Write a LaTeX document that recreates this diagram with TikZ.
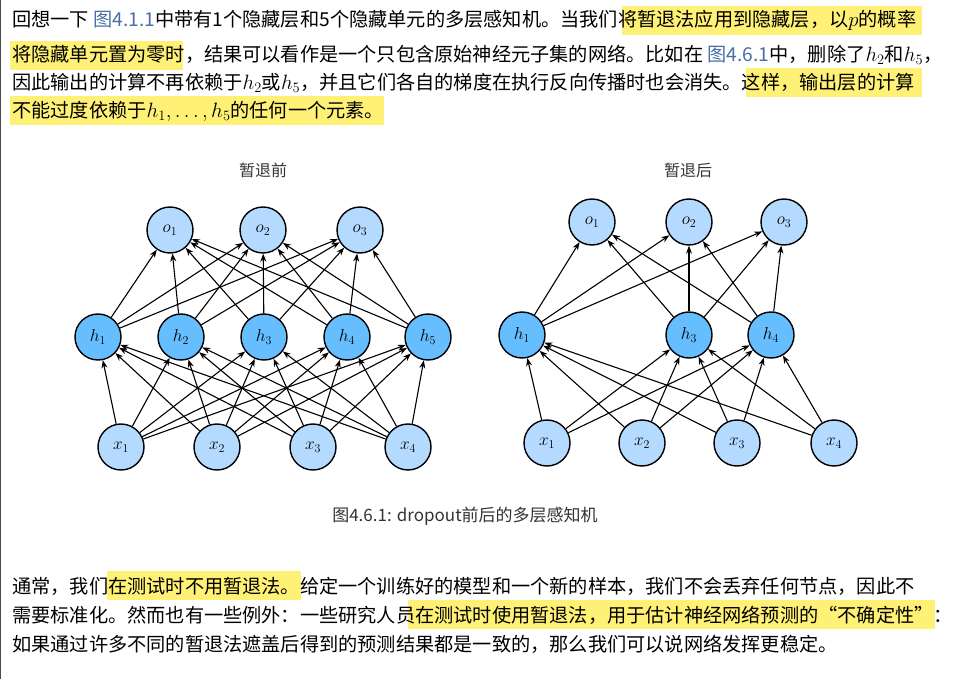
\documentclass[tikz,border=0pt]{standalone}
\usepackage{fontspec}
\setmainfont{Noto Sans CJK SC}
\usetikzlibrary{arrows.meta}
\definecolor{hl}{HTML}{FFF176}
\definecolor{lnk}{HTML}{4A6FA5}
\definecolor{lite}{HTML}{B5DAFF}
\definecolor{dark}{HTML}{66BEFF}
\tikzset{
  txt/.style={anchor=west,inner sep=0pt,font=\fontsize{19.2}{22}\selectfont},
  unit/.style={circle,draw=black,line width=1.4pt,minimum size=46pt,inner sep=0pt,font=\fontsize{17}{18}\selectfont},
  inp/.style={unit,fill=lite},
  hid/.style={unit,fill=dark},
  arr/.style={-{Stealth[length=8pt,width=6pt]},line width=1.1pt},
  ttl/.style={font=\fontsize{16}{17}\selectfont,text=black!80}
}
\newcommand{\lk}[1]{\textcolor{lnk}{#1}}
\begin{document}
\begin{tikzpicture}[x=1pt,y=-1pt]
\useasboundingbox (0,0) rectangle (962,679);
\fill[white] (0,0) rectangle (962,679);
\draw[black!70,line width=1pt] (0.5,0) -- (0.5,679);
% highlights
\fill[hl] (622,6) rectangle (922,35);
\fill[hl] (10,41) rectangle (183,70);
\fill[hl] (746,68) rectangle (922,97);
\fill[hl] (10,96) rectangle (384,125);
\fill[hl] (107,571) rectangle (301,600);
\fill[hl] (408,600) rectangle (935,629);
% paragraph 1
\node[txt] (p1) at (12,20) {回想一下 \lk{图4.1.1}中带有1个隐藏层和5个隐藏单元的多层感知机。当我们将暂退法应用到隐藏层，以$p$的概率};
\node[txt] (p2) at (12,55) {将隐藏单元置为零时，结果可以看作是一个只包含原始神经元子集的网络。比如在 \lk{图4.6.1}中，删除了$h_2$和$h_5$，};
\node[txt] (p3) at (12,83) {因此输出的计算不再依赖于$h_2$或$h_5$，并且它们各自的梯度在执行反向传播时也会消失。这样，输出层的计算};
\node[txt] (p4) at (12,111) {不能过度依赖于$h_1,\ldots,h_5$的任何一个元素。};
% paragraph 2
\node[txt] (q1) at (12,586) {通常，我们在测试时不用暂退法。给定一个训练好的模型和一个新的样本，我们不会丢弃任何节点，因此不};
\node[txt] (q2) at (12,615) {需要标准化。然而也有一些例外：一些研究人员在测试时使用暂退法，用于估计神经网络预测的“不确定性”：};
\node[txt] (q3) at (12,644) {如果通过许多不同的暂退法遮盖后得到的预测结果都是一致的，那么我们可以说网络发挥更稳定。};
% titles
\node[ttl] (t1) at (263,170) {暂退前};
\node[ttl] (t2) at (688,170) {暂退后};
\node[font=\fontsize{17}{19}\selectfont,text=black!80] (cap) at (465,516) {图4.6.1: dropout前后的多层感知机};
% left network
\node[inp] (lo1) at (170,230) {$o_1$};
\node[inp] (lo2) at (263,230) {$o_2$};
\node[inp] (lo3) at (360,230) {$o_3$};
\node[hid] (lh1) at (98,337) {$h_1$};
\node[hid] (lh2) at (181,337) {$h_2$};
\node[hid] (lh3) at (264,337) {$h_3$};
\node[hid] (lh4) at (347,337) {$h_4$};
\node[hid] (lh5) at (428,337) {$h_5$};
\node[inp] (lx1) at (121,447) {$x_1$};
\node[inp] (lx2) at (217,447) {$x_2$};
\node[inp] (lx3) at (313,447) {$x_3$};
\node[inp] (lx4) at (408,447) {$x_4$};
\foreach \hh in {1,...,5}{\foreach \oo in {1,2,3}{\draw[arr] (lh\hh) -- (lo\oo);}
  \foreach \xx in {1,...,4}{\draw[arr] (lx\xx) -- (lh\hh);}}
% right network
\node[inp] (ro1) at (592,222) {$o_1$};
\node[inp] (ro2) at (689,222) {$o_2$};
\node[inp] (ro3) at (784,222) {$o_3$};
\node[hid] (rh1) at (522,335) {$h_1$};
\node[hid] (rh3) at (689,335) {$h_3$};
\node[hid] (rh4) at (771,335) {$h_4$};
\node[inp] (rx1) at (547,443) {$x_1$};
\node[inp] (rx2) at (642,443) {$x_2$};
\node[inp] (rx3) at (737,443) {$x_3$};
\node[inp] (rx4) at (834,443) {$x_4$};
\foreach \hh in {1,3,4}{\foreach \oo in {1,2,3}{\draw[arr] (rh\hh) -- (ro\oo);}
  \foreach \xx in {1,...,4}{\draw[arr] (rx\xx) -- (rh\hh);}}
\end{tikzpicture}
\end{document}
